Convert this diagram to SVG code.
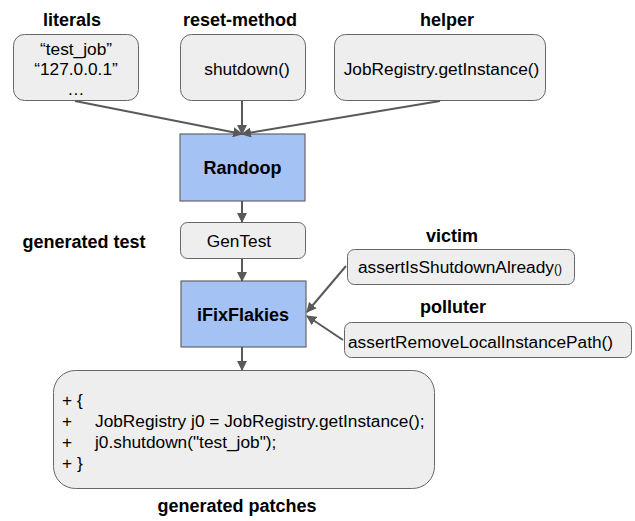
<svg xmlns="http://www.w3.org/2000/svg" width="635" height="521" viewBox="0 0 635 521">
  <defs>
    <marker id="arrow" viewBox="0 0 10 10" refX="9" refY="5" markerWidth="10" markerHeight="10" markerUnits="userSpaceOnUse" orient="auto">
      <path d="M0,0 L10,5 L0,10 z" fill="#595959"/>
    </marker>
    <style>
      .box { fill: #eeeeee; stroke: #666666; stroke-width: 1; }
      .tool { fill: #a4c2f4; stroke: #666666; stroke-width: 1.2; }
      .txt { font-family: "Liberation Sans", Arial, sans-serif; font-size: 17.3px; fill: #000000; }
      .lbl { font-family: "Liberation Sans", Arial, sans-serif; font-size: 18px; font-weight: bold; fill: #000000; }
      .edge { fill: none; stroke: #595959; stroke-width: 2; marker-end: url(#arrow); }
    </style>
  </defs>
  <rect width="635" height="521" fill="#ffffff"/>

  <g id="literals">
    <text class="lbl" x="72" y="26" text-anchor="middle">literals</text>
    <rect class="box" x="13.5" y="34.5" width="125" height="66" rx="11"/>
    <text class="txt" x="76" y="55" text-anchor="middle">“test_job”</text>
    <text class="txt" x="76" y="75" text-anchor="middle">“127.0.0.1”</text>
    <text class="txt" x="76" y="95" text-anchor="middle">…</text>
  </g>

  <g id="reset-method">
    <text class="lbl" x="240" y="26" text-anchor="middle">reset-method</text>
    <rect class="box" x="180.5" y="34.5" width="125" height="66" rx="11"/>
    <text class="txt" x="247" y="75" text-anchor="middle">shutdown()</text>
  </g>

  <g id="helper">
    <text class="lbl" x="447" y="26" text-anchor="middle">helper</text>
    <rect class="box" x="334.5" y="34.5" width="211" height="66" rx="11"/>
    <text class="txt" x="441.5" y="75" text-anchor="middle">JobRegistry.getInstance()</text>
  </g>

  <g id="randoop">
    <rect class="tool" x="180" y="134" width="125" height="67"/>
    <text class="lbl" x="242.5" y="174" text-anchor="middle">Randoop</text>
  </g>

  <g id="gentest">
    <text class="lbl" x="84" y="248" text-anchor="middle">generated test</text>
    <rect class="box" x="180.5" y="222.5" width="125" height="36" rx="7"/>
    <text class="txt" x="239" y="247" text-anchor="middle">GenTest</text>
  </g>

  <g id="ifixflakies">
    <rect class="tool" x="181" y="281" width="125" height="66"/>
    <text class="lbl" x="243" y="321" text-anchor="middle">iFixFlakies</text>
  </g>

  <g id="victim">
    <text class="lbl" x="452" y="242" text-anchor="middle">victim</text>
    <rect class="box" x="347.5" y="249.5" width="227" height="35" rx="7"/>
    <text class="txt" x="358" y="273">assertIsShutdownAlready<tspan font-size="12">()</tspan></text>
  </g>

  <g id="polluter">
    <text class="lbl" x="453" y="313" text-anchor="middle">polluter</text>
    <rect class="box" x="344.5" y="322.5" width="287" height="35" rx="7"/>
    <text class="txt" x="348" y="348">assertRemoveLocalInstancePath()</text>
  </g>

  <g id="patches">
    <rect class="box" x="53.5" y="370.5" width="381" height="118" rx="22"/>
    <text class="txt" x="62" y="406">+ {</text>
    <text class="txt" x="62" y="427">+</text>
    <text class="txt" x="95" y="427">JobRegistry j0 = JobRegistry.getInstance();</text>
    <text class="txt" x="62" y="448">+</text>
    <text class="txt" x="95" y="448">j0.shutdown("test_job");</text>
    <text class="txt" x="62" y="469">+ }</text>
    <text class="lbl" x="237" y="512" text-anchor="middle">generated patches</text>
  </g>

  <g id="connectors">
    <line class="edge" x1="75" y1="101" x2="242" y2="134"/>
    <line class="edge" x1="242" y1="101" x2="242" y2="134"/>
    <line class="edge" x1="440" y1="101" x2="242" y2="134"/>
    <line class="edge" x1="242" y1="201" x2="242" y2="222"/>
    <line class="edge" x1="242" y1="259" x2="242" y2="281"/>
    <line class="edge" x1="346" y1="266" x2="307" y2="312"/>
    <line class="edge" x1="343" y1="340" x2="307" y2="316"/>
    <line class="edge" x1="242" y1="347" x2="242" y2="370"/>
  </g>
</svg>
